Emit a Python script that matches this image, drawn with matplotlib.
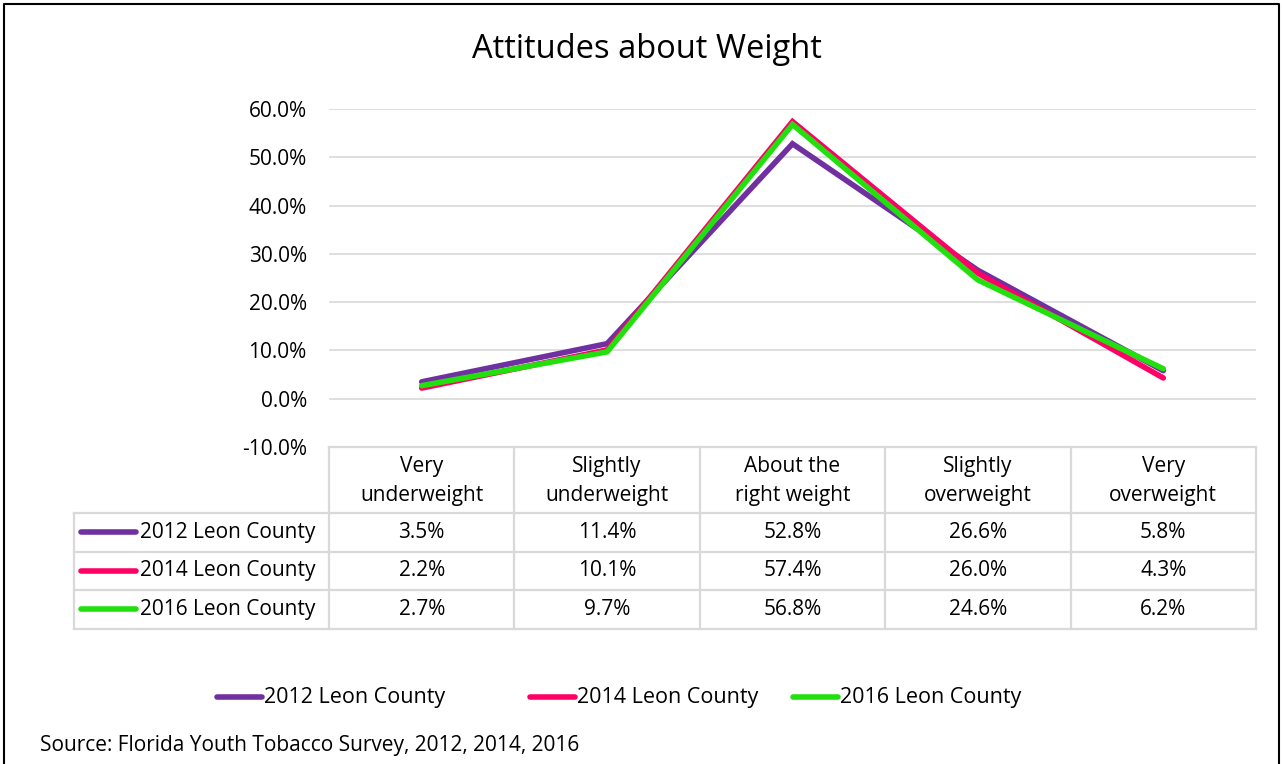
import matplotlib
matplotlib.use("Agg")
import matplotlib.pyplot as plt
import numpy as np

plt.rcParams['font.family'] = ['Open Sans', 'DejaVu Sans']

# data
categories = ['Very\nunderweight', 'Slightly\nunderweight', 'About the\nright weight',
              'Slightly\noverweight', 'Very\noverweight']
series_names = ['2012 Leon County', '2014 Leon County', '2016 Leon County']
vals_2012 = [3.5, 11.4, 52.8, 26.6, 5.8]
vals_2014 = [2.2, 10.1, 57.4, 26.0, 4.3]
vals_2016 = [2.7, 9.7, 56.8, 24.6, 6.2]
series_vals = [vals_2012, vals_2014, vals_2016]
colors = ['#7030A0', '#FF0066', '#22E00E']
yticks = [-10, 0, 10, 20, 30, 40, 50, 60]

W, H = 1282, 764
fig = plt.figure(figsize=(W / 100, H / 100), dpi=100)

# pixel-space overlay for table, border, legend
bg = fig.add_axes([0, 0, 1, 1])
bg.set_xlim(0, W)
bg.set_ylim(H, 0)
bg.axis('off')

# plot area
x0, x1 = 329, 1256
ytop, ybot = 109, 447
ax = fig.add_axes([x0 / W, 1 - ybot / H, (x1 - x0) / W, (ybot - ytop) / H])
ax.set_xlim(-0.5, len(categories) - 0.5)
ax.set_ylim(-10, 60)
for s in ax.spines.values():
    s.set_visible(False)
ax.set_xticks([])
ax.set_yticks(yticks)
ax.set_yticklabels(['%.1f%%' % v for v in yticks])
ax.tick_params(axis='y', length=0, pad=16, labelsize=15, colors='black')
for v in yticks[1:]:
    ax.axhline(v, color='#d9d9d9', lw=1.2, zorder=0)
ax.patch.set_alpha(0)

xs = np.arange(len(categories))
for name, vals, c in zip(series_names, series_vals, colors):
    ax.plot(xs, vals, color=c, lw=4, solid_capstyle='round', solid_joinstyle='miter', label=name)

# title
fig.text(647 / W, 1 - 50 / H, 'Attitudes about Weight', ha='center', va='center', fontsize=23.5)

# data table
grid_c = '#d9d9d9'
fs = 15
colw = (x1 - x0) / len(categories)
row_edges = [513, 551.5, 590, 628.5]
tl = 74
# header
bg.plot([x0, x1], [447, 447], color=grid_c, lw=1.6)
for i in range(len(categories) + 1):
    bg.plot([x0 + i * colw] * 2, [447, row_edges[-1]], color=grid_c, lw=1.6)
for y in row_edges:
    bg.plot([tl, x1], [y, y], color=grid_c, lw=1.6)
bg.plot([tl, tl], [row_edges[0], row_edges[-1]], color=grid_c, lw=1.6)

for i, cat in enumerate(categories):
    bg.text(x0 + (i + 0.5) * colw, 481, cat, ha='center', va='center', fontsize=fs,
            linespacing=1.45)

for r, (name, vals, c) in enumerate(zip(series_names, series_vals, colors)):
    yc = (row_edges[r] + row_edges[r + 1]) / 2
    bg.plot([81, 136], [yc, yc], color=c, lw=4, solid_capstyle='round')
    bg.text(140, yc, name, ha='left', va='center', fontsize=fs)
    for i, v in enumerate(vals):
        bg.text(x0 + (i + 0.5) * colw, yc, '%.1f%%' % v, ha='center', va='center', fontsize=fs)

# bottom legend
leg_x = [217, 530, 793]
for lx, name, c in zip(leg_x, series_names, colors):
    bg.plot([lx, lx + 45], [697, 697], color=c, lw=4, solid_capstyle='round')
    bg.text(lx + 47, 697, name, ha='left', va='center', fontsize=15.5)

# source
bg.text(40, 745, 'Source: Florida Youth Tobacco Survey, 2012, 2014, 2016', ha='left', va='center',
        fontsize=15)

# outer border
bg.plot([4, 4, 1279, 1279], [770, 4, 4, 770], color='black', lw=1.5)

fig.savefig('out.png', dpi=100)
